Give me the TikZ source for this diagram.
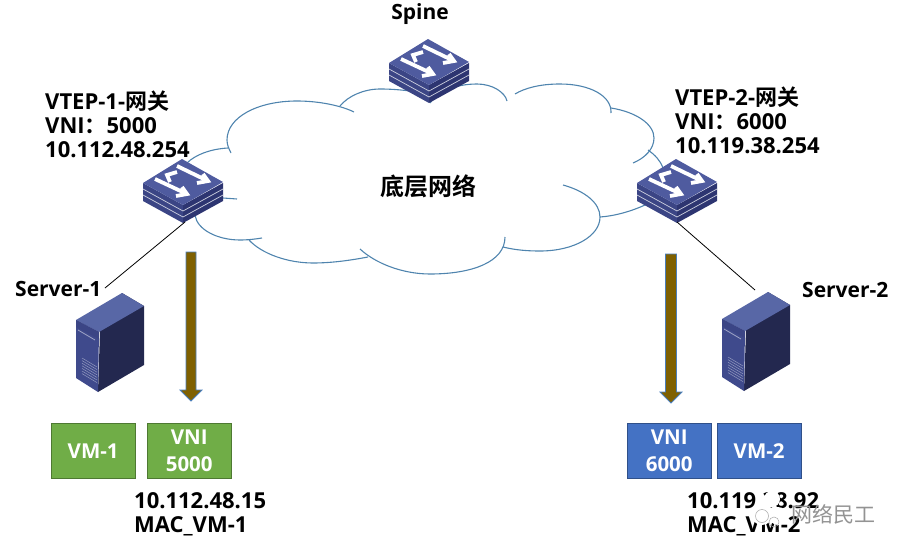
\documentclass[tikz,border=0pt]{standalone}
\usepackage{fontspec}
\setmainfont{Open Sans}
\newfontfamily\cjk{Noto Sans CJK SC}[BoldFont={Noto Sans CJK SC Bold}]
\usetikzlibrary{shapes.arrows}
\definecolor{cloudline}{HTML}{4F84AE}
\definecolor{swtop}{HTML}{4F5B9F}
\definecolor{swleft}{HTML}{3B4585}
\definecolor{swright}{HTML}{2D3571}
\definecolor{srvright}{HTML}{23284F}
\definecolor{srvtop}{HTML}{5867A6}
\definecolor{srvfront}{HTML}{3F4A8C}
\definecolor{vmgreen}{HTML}{70AD47}
\definecolor{vmblue}{HTML}{4472C4}
\definecolor{arrowfill}{HTML}{7F6000}
\definecolor{arrowline}{HTML}{4A7EBB}
\tikzset{
  x=1pt,y=-1pt,
  cloudarc/.style={draw=cloudline,line width=1.1pt},
  label/.style={font=\bfseries\fontsize{21}{24}\selectfont,anchor=west,align=left,inner sep=0pt,text=black},
  widelabel/.style={label,font=\bfseries\fontsize{22}{24}\selectfont},
  vmbox/.style={minimum width=84pt,minimum height=55pt,inner sep=0pt,anchor=north west,text=white,align=center,
    font=\bfseries\fontsize{20.5}{27}\selectfont},
  downarrow/.style={draw=arrowline,fill=arrowfill,line width=0.8pt},
  link/.style={draw=black,line width=0.8pt},
  pics/switchicon/.style={code={
    \fill[swleft] (-40,-2)--(0,20)--(0,38)--(-40,16)--cycle;
    \fill[swright] (40,-2)--(0,20)--(0,38)--(40,16)--cycle;
    \fill[swtop] (-40,-2)--(-1,-26)--(40,-3)--(0,20)--cycle;
    \draw[white!75!swleft,line width=0.7pt] (-40,4)--(0,26)--(40,4) (-40,10)--(0,32)--(40,10);
    \draw[white,line width=3.8pt,line join=miter]
      (-6,-19)--(25,-4) (14,-2)--(25,-4)--(20,-11)
      (-28,-6)--(4,9) (-7,11)--(4,9)--(-1,2)
      (-6,-13)--(-16,-10)--(-13,-3);
  }},
  pics/servericon/.style={code={
    \fill[srvright] (46,-73)--(68,-60)--(68,-1)--(22,26)--(24,-35)--cycle;
    \fill[srvtop] (0,-46)--(46,-73)--(68,-60)--(23,-34)--cycle;
    \fill[srvfront] (0,-46)--(23,-34)--(22,26)--(0,12)--cycle;
    \fill[swleft] (0,-46)--(23,-34)--(23,-27)--(0,-39)--cycle;
    \draw[white!50!srvfront,line width=0.8pt] (2,-36)--(19,-26);
    \foreach \k in {0,2.6,...,16}{\draw[white!45!srvfront,line width=0.5pt] (6,-8+\k)--(21,1+\k);}
  }}
}
\begin{document}
\begin{tikzpicture}
\useasboundingbox (0,0) rectangle (906,554);
% cloud
\draw[cloudarc] (354,112) .. controls (342,106) and (320,101) .. (297,101) .. controls (258,101) and (227,117) .. (227,140) .. controls (227,145) and (229,149) .. (231,153);
\draw[cloudarc] (228,148) .. controls (210,149) and (195,155) .. (187,163);
\draw[cloudarc] (223,198) -- (237,199);
\draw[cloudarc] (195,215) .. controls (197,230) and (218,240) .. (240,240) .. controls (248,240) and (256,239) .. (262,238);
\draw[cloudarc] (249,240) .. controls (262,254) and (288,263) .. (313,263) .. controls (333,263) and (352,260) .. (368,257);
\draw[cloudarc] (360,249) .. controls (375,263) and (402,274) .. (430,274) .. controls (472,274) and (505,262) .. (505,237);
\draw[cloudarc] (503,247) .. controls (515,250) and (527,251) .. (540,251) .. controls (574,251) and (600,236) .. (600,217) .. controls (600,203) and (585,191) .. (563,185);
\draw[cloudarc] (600,217) .. controls (615,216) and (632,211) .. (645,205);
\draw[cloudarc] (663,168) .. controls (660,160) and (655,155) .. (648,150);
\draw[cloudarc] (633,163) .. controls (645,158) and (654,149) .. (654,138) .. controls (654,124) and (636,112) .. (611,108);
\draw[cloudarc] (611,113) .. controls (612,96) and (590,84) .. (560,84) .. controls (540,84) and (525,88) .. (515,94);
\draw[cloudarc] (507,101) .. controls (505,92) and (492,84) .. (477,84) .. controls (455,84) and (438,92) .. (430,103);
\draw[cloudarc] (340,106) .. controls (348,96) and (364,89) .. (380,89) .. controls (392,89) and (402,90) .. (410,91);
% switches
\pic at (429,65) {switchicon};
\pic at (183,185) {switchicon};
\pic at (677,185) {switchicon};
\coordinate (sw1) at (185,222);
\coordinate (sw2) at (677,222);
\coordinate (srv1) at (105,288);
\coordinate (srv2) at (755,290);
\draw[link] (sw1) -- (srv1);
\draw[link] (sw2) -- (srv2);
% servers
\pic at (76,366) {servericon};
\pic at (722,365) {servericon};
% arrows
\coordinate (a1s) at (191,252);
\coordinate (a1e) at (191,401);
\coordinate (a2s) at (671,254);
\coordinate (a2e) at (671,403);
\draw[downarrow] (a1s) ++(-5,0) -- ++(10,0) -- ++(0,138) -- ++(6,0) -- (a1e) -- ++(-11,-11) -- ++(6,0) -- cycle;
\draw[downarrow] (a2s) ++(-5.5,0) -- ++(11,0) -- ++(0,138) -- ++(5.5,0) -- (a2e) -- ++(-11,-11) -- ++(5.5,0) -- cycle;
% VM boxes
\node[vmbox,fill=vmgreen,draw=vmgreen!70!black] (vm1) at (51,423) {VM-1};
\node[vmbox,fill=vmgreen,draw=vmgreen!70!black] (vni5) at (147,423) {VNI\\5000};
\node[vmbox,fill=vmblue,draw=vmblue!70!black] (vni6) at (627,423) {VNI\\6000};
\node[vmbox,fill=vmblue,draw=vmblue!70!black] (vm2) at (717,423) {VM-2};
% labels
\node[label,anchor=center] (spine) at (420,14) {Spine};
\node[widelabel] (vtep1) at (45,124) {VTEP-1-{\cjk 网关}\\VNI{\cjk ：}5000\\10.112.48.254};
\node[widelabel] (vtep2) at (675,120) {VTEP-2-{\cjk 网关}\\VNI{\cjk ：}6000\\10.119.38.254};
\node[label] (s1) at (15,289) {Server-1};
\node[label] (s2) at (802,290) {Server-2};
\node[label,anchor=center,font=\cjk\bfseries\fontsize{24}{26}\selectfont] (under) at (428,186) {底层网络};
\node[widelabel] (ip1) at (134,514) {10.112.48.15\\MAC\_VM-1};
\node[widelabel] (ip2) at (687,514) {10.119.38.92\\MAC\_VM-2};
% watermark
\fill[white] (772,499) circle (8) (762,514) circle (11) (778,516) circle (9);
\draw[gray!70,line width=0.5pt] (762,516) circle (6.5) (774,522) circle (5);
\node[font=\cjk\fontsize{21}{22}\selectfont,text=gray!85,inner sep=0pt] (wm) at (833,514) {网络民工};
\end{tikzpicture}
\end{document}
